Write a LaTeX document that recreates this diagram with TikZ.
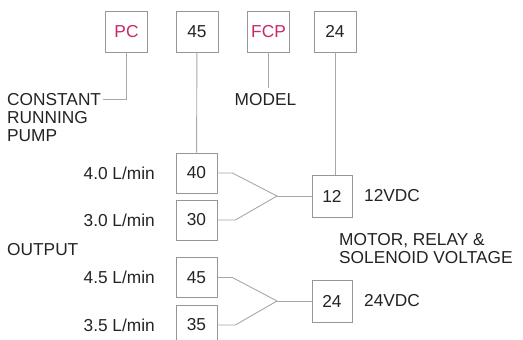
\documentclass[tikz,border=0pt]{standalone}
\usepackage{fontspec}
\setmainfont{Liberation Sans}
\usepackage{xcolor}
\usepackage{tikz}
\usetikzlibrary{positioning}
\definecolor{wirecol}{RGB}{168,168,168}
\definecolor{boxcol}{RGB}{150,150,150}
\definecolor{inkcol}{RGB}{35,35,35}
\definecolor{codecol}{RGB}{200,40,105}

\begin{document}
\begin{tikzpicture}[
        x=1pt, y=-1pt,
        every node/.style={font=\fontsize{17.3}{18}\selectfont, text=inkcol},
        box/.style={draw=boxcol, line width=0.8pt, minimum width=42pt,
                    minimum height=41pt, inner sep=0pt},
        lbl/.style={align=left, inner sep=0pt},
        wire/.style={draw=wirecol, line width=0.9pt}
    ]
        \useasboundingbox (0,0) rectangle (523,340);
        % top row
        \node[box, text=codecol] (pc)    at (126.5,31.5) {PC};
        \node[box]               (top45) at (197,31.5)   {45};
        \node[box, text=codecol] (fcp)   at (268.5,31.5) {FCP};
        \node[box]               (top24) at (335,31.5)   {24};
        % left column
        \node[box, minimum width=41pt, minimum height=40pt] (b40) at (196.5,173)   {40};
        \node[box, minimum width=41pt, minimum height=40pt] (b30) at (196.5,220)   {30};
        \node[box, minimum width=41pt, minimum height=40pt] (b45) at (196.5,277.5) {45};
        \node[box, minimum width=41pt, minimum height=40pt] (b35) at (196.5,325)   {35};
        % voltage boxes
        \node[box, minimum width=40pt, minimum height=42pt] (b12) at (332,196) {12};
        \node[box, minimum width=40pt, minimum height=42pt] (b24) at (332,301) {24};
        % labels
        \node[lbl, anchor=north west] (pump) at (7,93) {CONSTANT\\RUNNING\\PUMP};
        \node[lbl, anchor=north] (model) at (265.5,93.5) {MODEL};
        \node[lbl, anchor=east] (l40) at (155,173)   {4.0 L/min};
        \node[lbl, anchor=east] (l30) at (155,220)   {3.0 L/min};
        \node[lbl, anchor=west] (out) at (7,250)     {OUTPUT};
        \node[lbl, anchor=east] (l45) at (155,277.5) {4.5 L/min};
        \node[lbl, anchor=east] (l35) at (155,325)   {3.5 L/min};
        \node[lbl, anchor=west] (v12) at (364,196)   {12VDC};
        \node[lbl, anchor=west] (v24) at (364,301)   {24VDC};
        \node[lbl, anchor=west] (motor) at (339,249) {MOTOR, RELAY \&\\SOLENOID VOLTAGE};
        \coordinate (pumpend) at (103,99);
        \coordinate (m12) at (277,196);
        \coordinate (m24) at (277,301);
        % wires
        \draw[wire] (pc.south) |- (pumpend);
        \draw[wire] (top45) -- (b40);
        \draw[wire] (fcp.south) -- ++(0,36);
        \draw[wire] (top24.south) -- (top24.south |- b12.north);
        \draw[wire] (b40.east) -- ++(15,0) -- (m12);
        \draw[wire] (b30.east) -- ++(18,0) -- (m12);
        \draw[wire] (m12) -- (b12.west);
        \draw[wire] (b45.east) -- ++(15,0) -- (m24);
        \draw[wire] (b35.east) -- ++(18,0) -- (m24);
        \draw[wire] (m24) -- (b24.west);
    \end{tikzpicture}
\end{document}
